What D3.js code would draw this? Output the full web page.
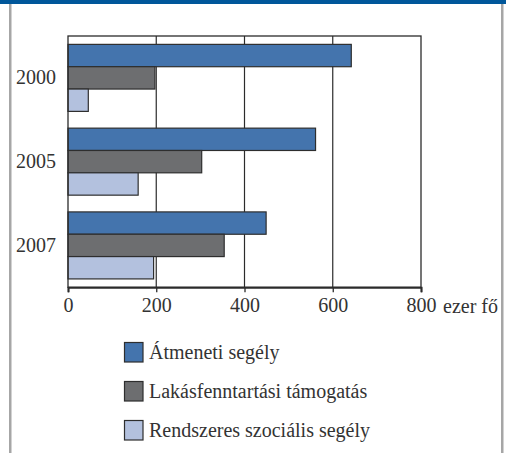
<!DOCTYPE html>
<html><head><meta charset="utf-8">
<script src="https://cdn.jsdelivr.net/npm/d3@7"></script>
<style>body{margin:0;background:#fff}svg{display:block}</style>
</head><body>
<script>
const years = ["2000", "2005", "2007"];
const seriesNames = ["Átmeneti segély", "Lakásfenntartási támogatás", "Rendszeres szociális segély"];
const atmeneti = [642, 561, 449];
const lakas = [197, 303, 354];
const rendszeres = [46, 159, 194];
const xTicks = [0, 200, 400, 600, 800];
const unitLabel = "ezer fő";
const colors = ["#4474ad", "#6d6e70", "#b3c1de"];
const seriesValues = [atmeneti, lakas, rendszeres];

const W = 506, H = 453;
const font = "'Liberation Serif', 'DejaVu Serif', serif";
const fs = 20;
const svg = d3.select("body").append("svg").attr("width", W).attr("height", H);

// frame
svg.append("rect").attr("x", 0).attr("y", 0).attr("width", W).attr("height", 4).attr("fill", "#00579a");
svg.append("rect").attr("x", 9).attr("y", 4).attr("width", 2.5).attr("height", H).attr("fill", "#a6a6a6");
svg.append("rect").attr("x", 501).attr("y", 4).attr("width", 2.5).attr("height", H).attr("fill", "#a6a6a6");

const x = d3.scaleLinear().domain([0, 800]).range([68, 421]);
const y = d3.scaleBand().domain(years).range([36, 287.3]).paddingInner(0.2).paddingOuter(0.1);
const ys = d3.scaleBand().domain(d3.range(3)).range([0, y.bandwidth()]);

// gridlines
svg.append("g").selectAll("line").data(xTicks.slice(1, -1)).join("line")
  .attr("x1", d => x(d)).attr("x2", d => x(d)).attr("y1", 36).attr("y2", 287.3)
  .attr("stroke", "#2b2b2b").attr("stroke-width", 1.2);

// bars
const g = svg.append("g");
years.forEach((yr, i) => {
  seriesValues.forEach((vals, s) => {
    g.append("rect")
      .attr("x", x(0)).attr("y", y(yr) + ys(s))
      .attr("width", x(vals[i]) - x(0)).attr("height", ys.bandwidth())
      .attr("fill", colors[s]).attr("stroke", "#2e2e2e").attr("stroke-width", 1.2);
  });
});

// plot border
svg.append("rect").attr("x", 68).attr("y", 36).attr("width", 353).attr("height", 251.3)
  .attr("fill", "none").attr("stroke", "#2b2b2b").attr("stroke-width", 1.3);

// x axis
const xAxis = svg.append("g").attr("transform", "translate(0,287.3)")
  .call(d3.axisBottom(x).tickValues(xTicks).tickSize(5).tickPadding(6).tickFormat(d3.format("d")));
xAxis.select(".domain").attr("stroke", "#2b2b2b").attr("stroke-width", 2);
xAxis.selectAll(".tick line").attr("stroke", "#2b2b2b").attr("stroke-width", 1.3);
xAxis.selectAll("text").attr("font-family", font).attr("font-size", fs).attr("fill", "#333");
svg.append("text").attr("x", 443).attr("y", 312.5).attr("font-family", font).attr("font-size", fs)
  .attr("fill", "#333").text(unitLabel);

// y labels
const yAxis = svg.append("g").attr("transform", "translate(68,0)")
  .call(d3.axisLeft(y).tickSize(0).tickPadding(12));
yAxis.select(".domain").remove();
yAxis.selectAll("text").attr("font-family", font).attr("font-size", fs).attr("fill", "#333");

// legend
const leg = svg.append("g");
seriesNames.forEach((n, i) => {
  const yy = 342.5 + i * 39;
  leg.append("rect").attr("x", 124.5).attr("y", yy).attr("width", 18.5).attr("height", 19.5)
    .attr("fill", colors[i]).attr("stroke", "#2e2e2e").attr("stroke-width", 1.2);
  leg.append("text").attr("x", 149).attr("y", yy + 16).attr("font-family", font).attr("font-size", fs)
    .attr("fill", "#333").text(n);
});
</script>
</body></html>
